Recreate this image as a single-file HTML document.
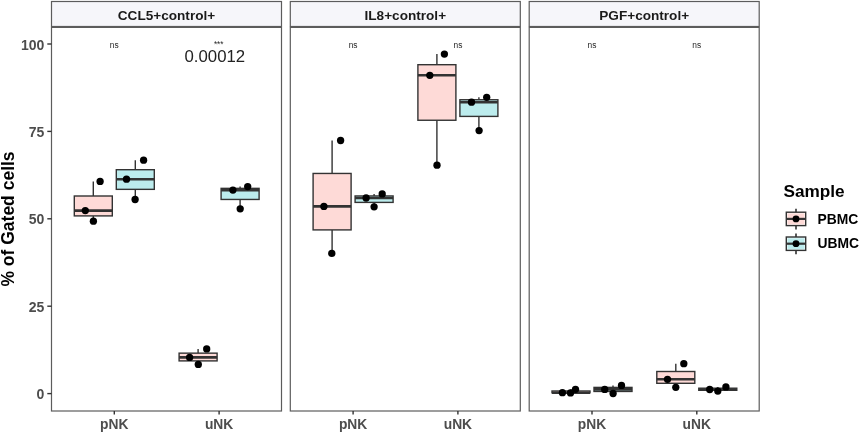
<!DOCTYPE html>
<html><head><meta charset="utf-8"><title>Plot</title>
<style>
html,body{margin:0;padding:0;background:#fff;overflow:hidden;}
svg{display:block;will-change:transform;}
text{font-family:"Liberation Sans",Arial,sans-serif;}
</style></head>
<body>
<svg width="859" height="433" viewBox="0 0 859 433">
<rect x="0" y="0" width="859" height="433" fill="#ffffff"/>
<rect x="51.5" y="1.5" width="230.0" height="25.0" fill="#F6F6FA" stroke="#5c5c5c" stroke-width="1.2"/>
<text x="166.5" y="19.5" font-size="13.6" font-weight="bold" fill="#1A1A1A" text-anchor="middle">CCL5+control+</text>
<rect x="51.5" y="27.4" width="230.0" height="383.6" fill="none" stroke="#5c5c5c" stroke-width="1.2"/>
<line x1="114.3" y1="411.0" x2="114.3" y2="414.4" stroke="#333333" stroke-width="1.4"/>
<text x="114.3" y="428.8" font-size="13.8" font-weight="bold" fill="#4D4D4D" text-anchor="middle">pNK</text>
<line x1="219.1" y1="411.0" x2="219.1" y2="414.4" stroke="#333333" stroke-width="1.4"/>
<text x="219.1" y="428.8" font-size="13.8" font-weight="bold" fill="#4D4D4D" text-anchor="middle">uNK</text>
<rect x="290.3" y="1.5" width="230.0" height="25.0" fill="#F6F6FA" stroke="#5c5c5c" stroke-width="1.2"/>
<text x="405.29999999999995" y="19.5" font-size="13.6" font-weight="bold" fill="#1A1A1A" text-anchor="middle">IL8+control+</text>
<rect x="290.3" y="27.4" width="230.0" height="383.6" fill="none" stroke="#5c5c5c" stroke-width="1.2"/>
<line x1="353.1" y1="411.0" x2="353.1" y2="414.4" stroke="#333333" stroke-width="1.4"/>
<text x="353.1" y="428.8" font-size="13.8" font-weight="bold" fill="#4D4D4D" text-anchor="middle">pNK</text>
<line x1="457.9" y1="411.0" x2="457.9" y2="414.4" stroke="#333333" stroke-width="1.4"/>
<text x="457.9" y="428.8" font-size="13.8" font-weight="bold" fill="#4D4D4D" text-anchor="middle">uNK</text>
<rect x="529.2" y="1.5" width="230.0" height="25.0" fill="#F6F6FA" stroke="#5c5c5c" stroke-width="1.2"/>
<text x="644.2" y="19.5" font-size="13.6" font-weight="bold" fill="#1A1A1A" text-anchor="middle">PGF+control+</text>
<rect x="529.2" y="27.4" width="230.0" height="383.6" fill="none" stroke="#5c5c5c" stroke-width="1.2"/>
<line x1="592.0" y1="411.0" x2="592.0" y2="414.4" stroke="#333333" stroke-width="1.4"/>
<text x="592.0" y="428.8" font-size="13.8" font-weight="bold" fill="#4D4D4D" text-anchor="middle">pNK</text>
<line x1="696.8000000000001" y1="411.0" x2="696.8000000000001" y2="414.4" stroke="#333333" stroke-width="1.4"/>
<text x="696.8000000000001" y="428.8" font-size="13.8" font-weight="bold" fill="#4D4D4D" text-anchor="middle">uNK</text>
<line x1="47.3" y1="393.60" x2="51.5" y2="393.60" stroke="#333333" stroke-width="1.4"/>
<text x="44.3" y="399.10" font-size="14" font-weight="bold" fill="#4D4D4D" text-anchor="end">0</text>
<line x1="47.3" y1="306.20" x2="51.5" y2="306.20" stroke="#333333" stroke-width="1.4"/>
<text x="44.3" y="311.70" font-size="14" font-weight="bold" fill="#4D4D4D" text-anchor="end">25</text>
<line x1="47.3" y1="218.80" x2="51.5" y2="218.80" stroke="#333333" stroke-width="1.4"/>
<text x="44.3" y="224.30" font-size="14" font-weight="bold" fill="#4D4D4D" text-anchor="end">50</text>
<line x1="47.3" y1="131.40" x2="51.5" y2="131.40" stroke="#333333" stroke-width="1.4"/>
<text x="44.3" y="136.90" font-size="14" font-weight="bold" fill="#4D4D4D" text-anchor="end">75</text>
<line x1="47.3" y1="44.00" x2="51.5" y2="44.00" stroke="#333333" stroke-width="1.4"/>
<text x="44.3" y="49.50" font-size="14" font-weight="bold" fill="#4D4D4D" text-anchor="end">100</text>
<text transform="translate(14.25,219.0) rotate(-90)" font-size="17.5" font-weight="bold" fill="#000" text-anchor="middle">% of Gated cells</text>
<line x1="93.30" y1="181.40" x2="93.30" y2="196.00" stroke="#333333" stroke-width="1.4"/>
<line x1="93.30" y1="215.90" x2="93.30" y2="221.20" stroke="#333333" stroke-width="1.4"/>
<rect x="74.30" y="196.00" width="38.00" height="19.90" fill="#FEDAD7" stroke="#333333" stroke-width="1.4"/>
<line x1="74.30" y1="210.60" x2="112.30" y2="210.60" stroke="#333333" stroke-width="2.6"/>
<line x1="135.30" y1="160.20" x2="135.30" y2="169.70" stroke="#333333" stroke-width="1.4"/>
<line x1="135.30" y1="189.35" x2="135.30" y2="199.50" stroke="#333333" stroke-width="1.4"/>
<rect x="116.30" y="169.70" width="38.00" height="19.65" fill="#BCECED" stroke="#333333" stroke-width="1.4"/>
<line x1="116.30" y1="179.20" x2="154.30" y2="179.20" stroke="#333333" stroke-width="2.6"/>
<line x1="198.10" y1="348.90" x2="198.10" y2="353.15" stroke="#333333" stroke-width="1.4"/>
<line x1="198.10" y1="360.90" x2="198.10" y2="364.40" stroke="#333333" stroke-width="1.4"/>
<rect x="179.10" y="353.15" width="38.00" height="7.75" fill="#FEDAD7" stroke="#333333" stroke-width="1.4"/>
<line x1="179.10" y1="357.40" x2="217.10" y2="357.40" stroke="#333333" stroke-width="2.6"/>
<line x1="240.10" y1="186.60" x2="240.10" y2="188.35" stroke="#333333" stroke-width="1.4"/>
<line x1="240.10" y1="199.45" x2="240.10" y2="208.80" stroke="#333333" stroke-width="1.4"/>
<rect x="221.10" y="188.35" width="38.00" height="11.10" fill="#BCECED" stroke="#333333" stroke-width="1.4"/>
<line x1="221.10" y1="190.10" x2="259.10" y2="190.10" stroke="#333333" stroke-width="2.6"/>
<line x1="332.10" y1="140.50" x2="332.10" y2="173.45" stroke="#333333" stroke-width="1.4"/>
<line x1="332.10" y1="229.90" x2="332.10" y2="253.40" stroke="#333333" stroke-width="1.4"/>
<rect x="313.10" y="173.45" width="38.00" height="56.45" fill="#FEDAD7" stroke="#333333" stroke-width="1.4"/>
<line x1="313.10" y1="206.40" x2="351.10" y2="206.40" stroke="#333333" stroke-width="2.6"/>
<line x1="374.10" y1="193.90" x2="374.10" y2="195.95" stroke="#333333" stroke-width="1.4"/>
<line x1="374.10" y1="202.40" x2="374.10" y2="206.80" stroke="#333333" stroke-width="1.4"/>
<rect x="355.10" y="195.95" width="38.00" height="6.45" fill="#BCECED" stroke="#333333" stroke-width="1.4"/>
<line x1="355.10" y1="198.00" x2="393.10" y2="198.00" stroke="#333333" stroke-width="2.6"/>
<line x1="436.90" y1="54.10" x2="436.90" y2="64.70" stroke="#333333" stroke-width="1.4"/>
<line x1="436.90" y1="120.25" x2="436.90" y2="165.20" stroke="#333333" stroke-width="1.4"/>
<rect x="417.90" y="64.70" width="38.00" height="55.55" fill="#FEDAD7" stroke="#333333" stroke-width="1.4"/>
<line x1="417.90" y1="75.30" x2="455.90" y2="75.30" stroke="#333333" stroke-width="2.6"/>
<line x1="478.90" y1="97.30" x2="478.90" y2="99.75" stroke="#333333" stroke-width="1.4"/>
<line x1="478.90" y1="116.40" x2="478.90" y2="130.60" stroke="#333333" stroke-width="1.4"/>
<rect x="459.90" y="99.75" width="38.00" height="16.65" fill="#BCECED" stroke="#333333" stroke-width="1.4"/>
<line x1="459.90" y1="102.20" x2="497.90" y2="102.20" stroke="#333333" stroke-width="2.6"/>
<line x1="571.00" y1="389.30" x2="571.00" y2="391.00" stroke="#333333" stroke-width="1.4"/>
<line x1="571.00" y1="392.80" x2="571.00" y2="392.90" stroke="#333333" stroke-width="1.4"/>
<rect x="552.00" y="391.00" width="38.00" height="1.80" fill="#FEDAD7" stroke="#333333" stroke-width="1.4"/>
<line x1="552.00" y1="392.70" x2="590.00" y2="392.70" stroke="#333333" stroke-width="2.6"/>
<line x1="613.00" y1="385.40" x2="613.00" y2="387.40" stroke="#333333" stroke-width="1.4"/>
<line x1="613.00" y1="391.45" x2="613.00" y2="393.50" stroke="#333333" stroke-width="1.4"/>
<rect x="594.00" y="387.40" width="38.00" height="4.05" fill="#BCECED" stroke="#333333" stroke-width="1.4"/>
<line x1="594.00" y1="389.40" x2="632.00" y2="389.40" stroke="#333333" stroke-width="2.6"/>
<line x1="675.80" y1="363.70" x2="675.80" y2="371.50" stroke="#333333" stroke-width="1.4"/>
<line x1="675.80" y1="383.30" x2="675.80" y2="387.30" stroke="#333333" stroke-width="1.4"/>
<rect x="656.80" y="371.50" width="38.00" height="11.80" fill="#FEDAD7" stroke="#333333" stroke-width="1.4"/>
<line x1="656.80" y1="379.30" x2="694.80" y2="379.30" stroke="#333333" stroke-width="2.6"/>
<line x1="717.80" y1="386.90" x2="717.80" y2="388.20" stroke="#333333" stroke-width="1.4"/>
<line x1="717.80" y1="390.30" x2="717.80" y2="391.10" stroke="#333333" stroke-width="1.4"/>
<rect x="698.80" y="388.20" width="38.00" height="2.10" fill="#BCECED" stroke="#333333" stroke-width="1.4"/>
<line x1="698.80" y1="389.50" x2="736.80" y2="389.50" stroke="#333333" stroke-width="2.6"/>
<circle cx="100.1" cy="181.4" r="3.65" fill="#000"/>
<circle cx="85.3" cy="210.6" r="3.65" fill="#000"/>
<circle cx="93.4" cy="221.2" r="3.65" fill="#000"/>
<circle cx="143.6" cy="160.2" r="3.65" fill="#000"/>
<circle cx="126.5" cy="179.2" r="3.65" fill="#000"/>
<circle cx="135.1" cy="199.5" r="3.65" fill="#000"/>
<circle cx="206.7" cy="348.9" r="3.65" fill="#000"/>
<circle cx="189.6" cy="357.4" r="3.65" fill="#000"/>
<circle cx="198.3" cy="364.4" r="3.65" fill="#000"/>
<circle cx="232.9" cy="190.1" r="3.65" fill="#000"/>
<circle cx="247.7" cy="186.6" r="3.65" fill="#000"/>
<circle cx="240.2" cy="208.8" r="3.65" fill="#000"/>
<circle cx="340.6" cy="140.5" r="3.65" fill="#000"/>
<circle cx="323.9" cy="206.4" r="3.65" fill="#000"/>
<circle cx="331.8" cy="253.4" r="3.65" fill="#000"/>
<circle cx="366.1" cy="198.0" r="3.65" fill="#000"/>
<circle cx="382.2" cy="193.9" r="3.65" fill="#000"/>
<circle cx="374.1" cy="206.8" r="3.65" fill="#000"/>
<circle cx="444.4" cy="54.1" r="3.65" fill="#000"/>
<circle cx="429.8" cy="75.3" r="3.65" fill="#000"/>
<circle cx="437.0" cy="165.2" r="3.65" fill="#000"/>
<circle cx="471.5" cy="102.2" r="3.65" fill="#000"/>
<circle cx="486.7" cy="97.3" r="3.65" fill="#000"/>
<circle cx="479.1" cy="130.6" r="3.65" fill="#000"/>
<circle cx="562.4" cy="392.7" r="3.65" fill="#000"/>
<circle cx="570.5" cy="392.9" r="3.65" fill="#000"/>
<circle cx="575.5" cy="389.3" r="3.65" fill="#000"/>
<circle cx="604.7" cy="389.4" r="3.65" fill="#000"/>
<circle cx="613.1" cy="393.5" r="3.65" fill="#000"/>
<circle cx="621.5" cy="385.4" r="3.65" fill="#000"/>
<circle cx="683.8" cy="363.7" r="3.65" fill="#000"/>
<circle cx="667.5" cy="379.3" r="3.65" fill="#000"/>
<circle cx="675.8" cy="387.3" r="3.65" fill="#000"/>
<circle cx="709.7" cy="389.5" r="3.65" fill="#000"/>
<circle cx="717.8" cy="391.1" r="3.65" fill="#000"/>
<circle cx="725.9" cy="386.9" r="3.65" fill="#000"/>
<text x="114.3" y="47.6" font-size="8.4" fill="#262626" text-anchor="middle">ns</text>
<text x="218.7" y="47.1" font-size="8.2" fill="#262626" text-anchor="middle">***</text>
<text x="353.1" y="47.6" font-size="8.4" fill="#262626" text-anchor="middle">ns</text>
<text x="457.9" y="47.6" font-size="8.4" fill="#262626" text-anchor="middle">ns</text>
<text x="592.0" y="47.6" font-size="8.4" fill="#262626" text-anchor="middle">ns</text>
<text x="696.8000000000001" y="47.6" font-size="8.4" fill="#262626" text-anchor="middle">ns</text>
<text x="184.5" y="61.7" font-size="16.8" fill="#222">0.00012</text>
<text x="783.5" y="196.5" font-size="17.2" font-weight="bold" fill="#000">Sample</text>
<line x1="796.0" y1="208.70000000000002" x2="796.0" y2="229.5" stroke="#222" stroke-width="1.5"/>
<rect x="786.3" y="212.20000000000002" width="19.4" height="13.4" fill="#FEEEEC" stroke="#333333" stroke-width="1.4"/>
<rect x="787.8" y="213.70000000000002" width="16.4" height="10.4" fill="#FEDAD7"/>
<line x1="786.4" y1="218.9" x2="805.6" y2="218.9" stroke="#333333" stroke-width="2.2"/>
<circle cx="796.0" cy="218.9" r="3.4" fill="#000"/>
<text x="817.6" y="223.6" font-size="13.85" font-weight="bold" fill="#000">PBMC</text>
<line x1="796.0" y1="233.5" x2="796.0" y2="254.29999999999998" stroke="#222" stroke-width="1.5"/>
<rect x="786.3" y="237.0" width="19.4" height="13.4" fill="#E2F7F7" stroke="#333333" stroke-width="1.4"/>
<rect x="787.8" y="238.5" width="16.4" height="10.4" fill="#BCECED"/>
<line x1="786.4" y1="243.7" x2="805.6" y2="243.7" stroke="#333333" stroke-width="2.2"/>
<circle cx="796.0" cy="243.7" r="3.4" fill="#000"/>
<text x="817.6" y="248.4" font-size="13.85" font-weight="bold" fill="#000">UBMC</text>
</svg>
</body></html>
